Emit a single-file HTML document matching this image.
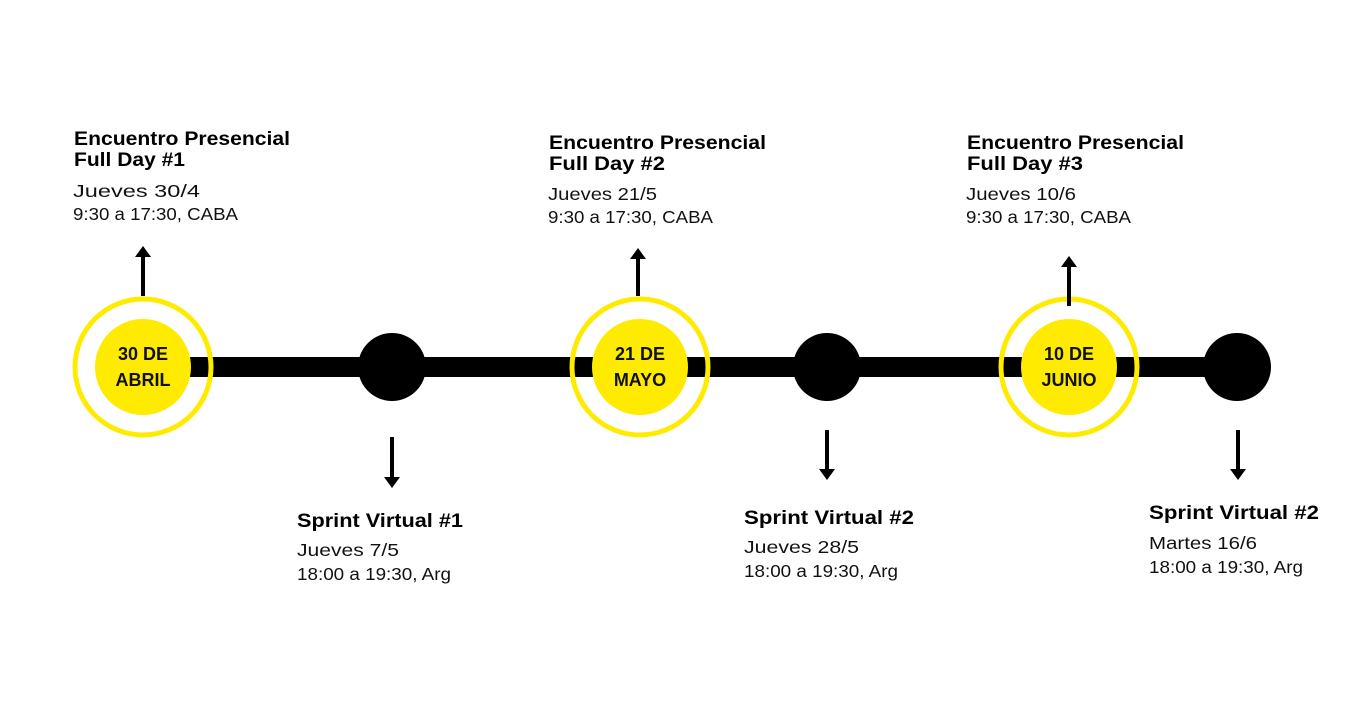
<!DOCTYPE html>
<html><head><meta charset="utf-8"><style>
html,body{margin:0;padding:0;background:#fff;}
svg{display:block}
.b{font-family:"Liberation Sans",sans-serif;font-weight:bold;font-size:19px;fill:#000}
.r{font-family:"Liberation Sans",sans-serif;font-size:17.5px;fill:#111}
.d{font-family:"Liberation Sans",sans-serif;font-weight:bold;font-size:18px;fill:#111;text-anchor:middle}
</style></head><body>
<svg width="1366" height="705" viewBox="0 0 1366 705" xmlns="http://www.w3.org/2000/svg">
<rect width="1366" height="705" fill="#fff"/>
<rect x="185" y="357" width="1055" height="20" fill="#000"/>
<g fill="none" stroke="#FFEB00" stroke-width="5">
<circle cx="143" cy="367" r="68"/>
<circle cx="640" cy="367" r="68"/>
<circle cx="1069" cy="367" r="68"/>
</g>
<g fill="#FFEB00">
<circle cx="143" cy="367" r="48"/>
<circle cx="640" cy="367" r="48"/>
<circle cx="1069" cy="367" r="48"/>
</g>
<g fill="#000">
<circle cx="392" cy="367" r="34"/>
<circle cx="827" cy="367" r="34"/>
<circle cx="1237" cy="367" r="34"/>
</g>
<text class="d" x="143" y="360">30 DE</text><text class="d" x="143" y="386">ABRIL</text>
<text class="d" x="640" y="360">21 DE</text><text class="d" x="640" y="386">MAYO</text>
<text class="d" x="1069" y="360">10 DE</text><text class="d" x="1069" y="386">JUNIO</text>
<g fill="#000">
<rect x="141" y="256" width="4" height="40"/><polygon points="143,246 135,257 151,257"/>
<rect x="636" y="258" width="4" height="38"/><polygon points="638,248 630,259 646,259"/>
<rect x="1067" y="266" width="4" height="40"/><polygon points="1069,256 1061,267 1077,267"/>
<rect x="390" y="437" width="4" height="41"/><polygon points="392,488 384,477 400,477"/>
<rect x="825" y="430" width="4" height="41"/><polygon points="827,480 819,469 835,469"/>
<rect x="1236" y="430" width="4" height="41"/><polygon points="1238,480 1230,469 1246,469"/>
</g>
<text class="b" x="74" y="145" textLength="216" lengthAdjust="spacingAndGlyphs">Encuentro Presencial</text>
<text class="b" x="74" y="166" textLength="111" lengthAdjust="spacingAndGlyphs">Full Day #1</text>
<text class="r" x="73" y="197" textLength="127" lengthAdjust="spacingAndGlyphs">Jueves 30/4</text>
<text class="r" x="73" y="220" textLength="165" lengthAdjust="spacingAndGlyphs">9:30 a 17:30, CABA</text>

<text class="b" x="549" y="149" textLength="217" lengthAdjust="spacingAndGlyphs">Encuentro Presencial</text>
<text class="b" x="549" y="170" textLength="116" lengthAdjust="spacingAndGlyphs">Full Day #2</text>
<text class="r" x="548" y="200" textLength="109" lengthAdjust="spacingAndGlyphs">Jueves 21/5</text>
<text class="r" x="548" y="223" textLength="165" lengthAdjust="spacingAndGlyphs">9:30 a 17:30, CABA</text>

<text class="b" x="967" y="149" textLength="217" lengthAdjust="spacingAndGlyphs">Encuentro Presencial</text>
<text class="b" x="967" y="170" textLength="116" lengthAdjust="spacingAndGlyphs">Full Day #3</text>
<text class="r" x="966" y="200" textLength="110" lengthAdjust="spacingAndGlyphs">Jueves 10/6</text>
<text class="r" x="966" y="223" textLength="165" lengthAdjust="spacingAndGlyphs">9:30 a 17:30, CABA</text>

<text class="b" x="297" y="527" textLength="166" lengthAdjust="spacingAndGlyphs">Sprint Virtual #1</text>
<text class="r" x="297" y="556" textLength="102" lengthAdjust="spacingAndGlyphs">Jueves 7/5</text>
<text class="r" x="297" y="580" textLength="154" lengthAdjust="spacingAndGlyphs">18:00 a 19:30, Arg</text>

<text class="b" x="744" y="524" textLength="170" lengthAdjust="spacingAndGlyphs">Sprint Virtual #2</text>
<text class="r" x="744" y="553" textLength="115" lengthAdjust="spacingAndGlyphs">Jueves 28/5</text>
<text class="r" x="744" y="577" textLength="154" lengthAdjust="spacingAndGlyphs">18:00 a 19:30, Arg</text>

<text class="b" x="1149" y="519" textLength="170" lengthAdjust="spacingAndGlyphs">Sprint Virtual #2</text>
<text class="r" x="1149" y="549" textLength="108" lengthAdjust="spacingAndGlyphs">Martes 16/6</text>
<text class="r" x="1149" y="573" textLength="154" lengthAdjust="spacingAndGlyphs">18:00 a 19:30, Arg</text>
</svg>
</body></html>
